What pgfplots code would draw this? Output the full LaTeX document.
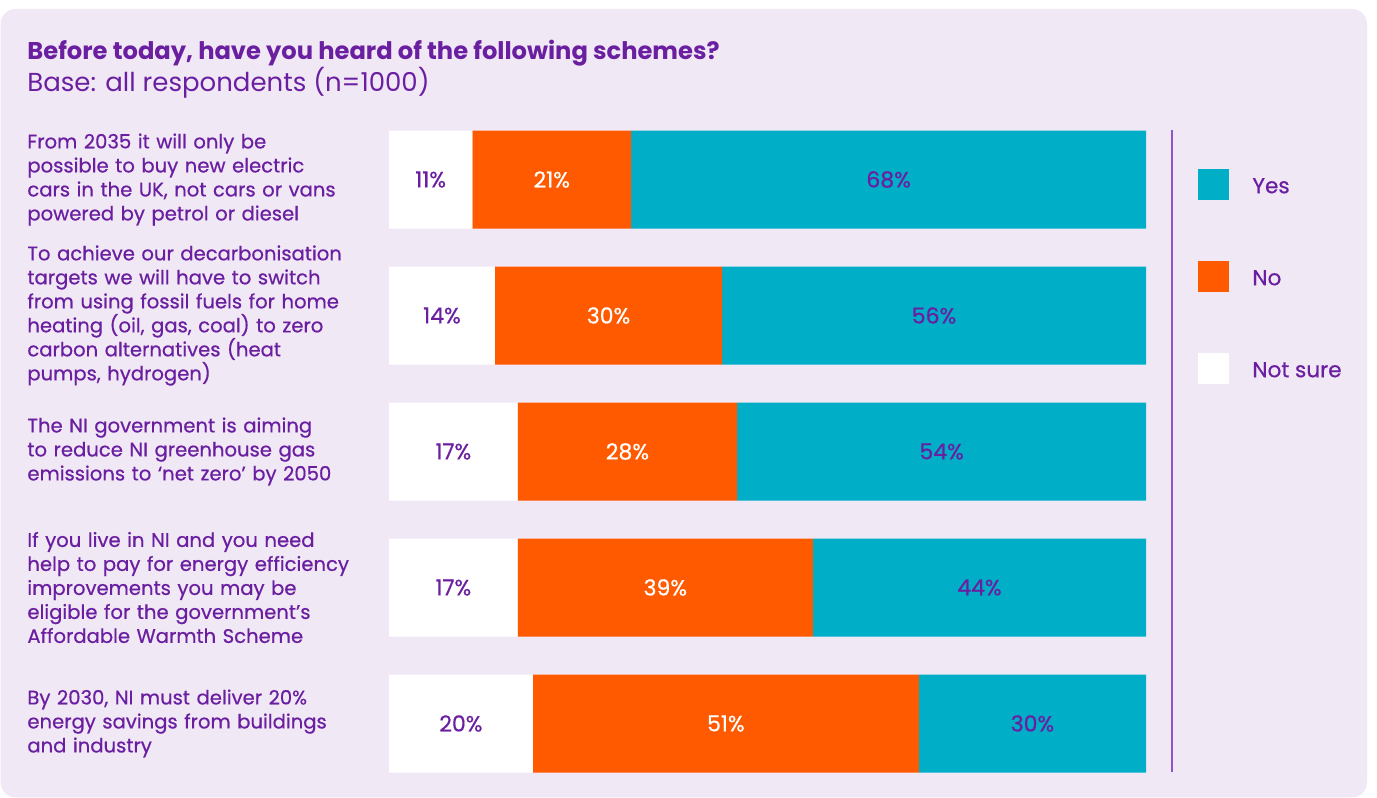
\documentclass[border=0pt]{standalone}
\usepackage{pgfplots}
\pgfplotsset{compat=1.18}
\usepackage{pgfplotstable}
\usepackage{fontspec}
\setmainfont{Poppins}
\newfontfamily\medfont{Poppins}[FakeBold=0.6]
\definecolor{bg}{HTML}{F1E8F6}
\definecolor{txt}{HTML}{6A1FA0}
\definecolor{orng}{HTML}{FF5A00}
\definecolor{tealb}{HTML}{00AEC8}
\definecolor{sepc}{HTML}{8E55C6}

% bar lengths (as drawn, each row spans the full width)
\pgfplotstableread{
row notsure no yes
0 11 21 68
1 14 30 56
2 17 29 54
3 17 39 44
4 19 51 30
}\bars
% label positions (segment centres) and printed values
\pgfplotstableread{
row xns lns xno lno xyes lyes
0 5.5 11 21.5 21 66 68
1 7 14 29 30 72 56
2 8.5 17 31.5 28 73 54
3 8.5 17 36.5 39 78 44
4 9.5 20 44.5 51 85 30
}\labs

\begin{document}
\begin{tikzpicture}
\fill[white] (0,0) rectangle (688.5pt,399pt);
\fill[bg, rounded corners=7.5pt] (0.3pt,0.3pt) rectangle (683.5pt,394.5pt);
\node[anchor=base west, inner sep=0pt, text=txt, font=\fontsize{12.1}{14}\selectfont\bfseries] at (13.5pt,369pt) {Before today, have you heard of the following schemes?};
\node[anchor=base west, inner sep=0pt, text=txt, font=\fontsize{13}{14}\selectfont] at (13.5pt,353pt) {Base: all respondents (n=1000)};

\begin{axis}[
  at={(194.5pt,3.25pt)}, anchor=south west,
  scale only axis, width=378.5pt, height=340pt,
  xmin=0, xmax=100, ymin=-0.5, ymax=4.5,
  y dir=reverse,
  xbar stacked, bar width=49pt,
  axis line style={draw=none}, major tick length=0pt,
  xtick=\empty, ytick={0,1,2,3,4},
  yticklabels={
    {From 2035 it will only be\\possible to buy new electric\\cars in the UK, not cars or vans\\powered by petrol or diesel},
    {To achieve our decarbonisation\\targets we will have to switch\\from using fossil fuels for home\\heating (oil, gas, coal) to zero\\carbon alternatives (heat\\pumps, hydrogen)},
    {The NI government is aiming\\to reduce NI greenhouse gas\\emissions to ‘net zero’ by 2050},
    {If you live in NI and you need\\help to pay for energy efficiency\\improvements you may be\\eligible for the government’s\\Affordable Warmth Scheme},
    {By 2030, NI must deliver 20\%\\energy savings from buildings\\and industry}},
  yticklabel style={anchor=west, xshift=-181pt, inner sep=0pt, text width=178pt, align=left,
    text=txt, font=\medfont\fontsize{9.8}{12}\selectfont},
  clip=false,
  reverse legend,
  legend cell align=left,
  legend image code/.code={\fill[#1] (0pt,-6.6pt) rectangle (15.5pt,8.9pt);},
  legend style={at={(1.0687,0.9155)}, anchor=north west, draw=none, fill=none,
    inner sep=0pt, row sep=30.5pt, text=txt, font=\medfont\fontsize{10.8}{12}\selectfont,
    nodes={inner sep=0pt},
    /tikz/every odd column/.append style={column sep=11.5pt}},
]
\addplot[fill=white, draw=none] table[x=notsure, y=row] {\bars};
\addlegendentry{Not sure}
\addplot[fill=orng, draw=none] table[x=no, y=row] {\bars};
\addlegendentry{No}
\addplot[fill=tealb, draw=none] table[x=yes, y=row] {\bars};
\addlegendentry{Yes}
\draw[sepc, line width=1pt] (axis description cs:1.0343,0.0287) -- (axis description cs:1.0343,0.9728);
\end{axis}

\begin{axis}[
  at={(194.5pt,3.25pt)}, anchor=south west,
  scale only axis, width=378.5pt, height=340pt,
  xmin=0, xmax=100, ymin=-0.5, ymax=4.5,
  y dir=reverse, hide axis, clip=false,
  point meta=explicit symbolic,
  nodes near coords={\pgfplotspointmeta\%},
  every node near coord/.append style={anchor=center, font=\medfont\fontsize{11}{12}\selectfont},
]
\addplot[draw=none, mark=none, every node near coord/.append style={text=txt}] table[x=xns, y=row, meta=lns] {\labs};
\addplot[draw=none, mark=none, every node near coord/.append style={text=white}] table[x=xno, y=row, meta=lno] {\labs};
\addplot[draw=none, mark=none, every node near coord/.append style={text=txt}] table[x=xyes, y=row, meta=lyes] {\labs};
\end{axis}
\pgfresetboundingbox
\useasboundingbox (0,0) rectangle (688.5pt,399pt);
\end{tikzpicture}
\end{document}
